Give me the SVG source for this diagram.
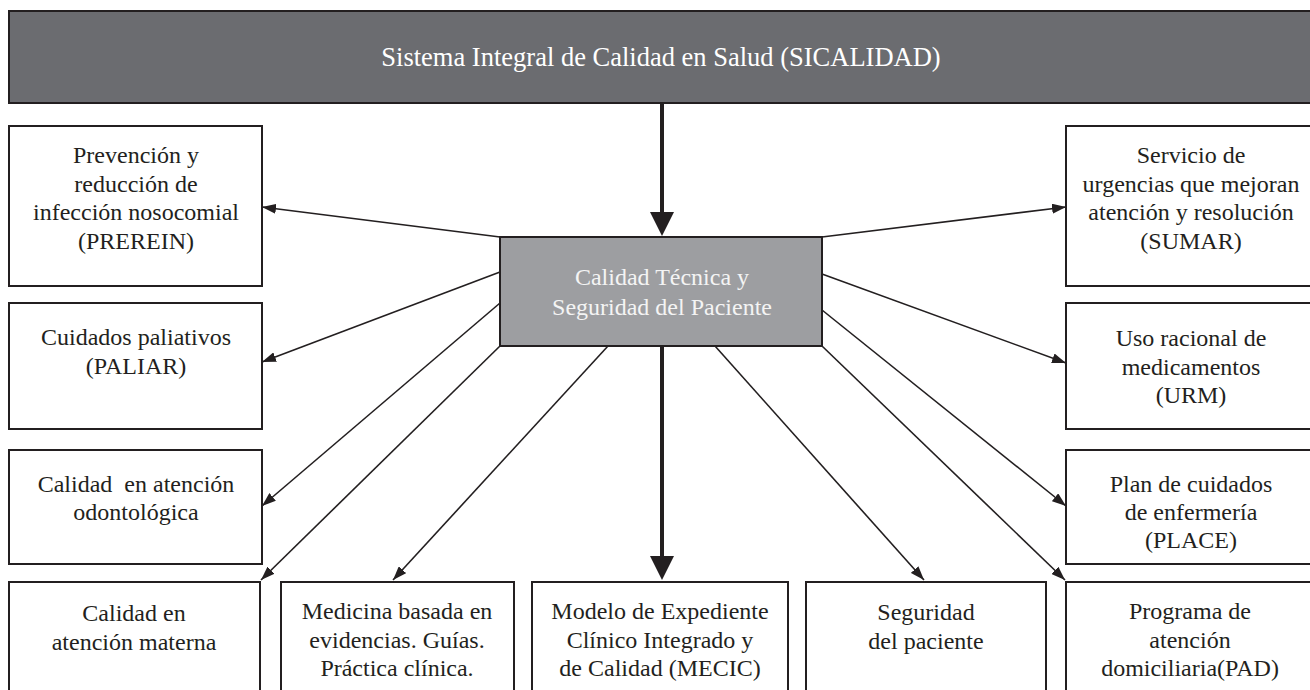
<svg xmlns="http://www.w3.org/2000/svg" width="1310" height="690" viewBox="0 0 1310 690">
<style>
.box{fill:#ffffff;stroke:#231f20;stroke-width:2}
.t{font-family:"Liberation Serif","Times New Roman",serif;font-size:24px;fill:#231f20;text-anchor:middle}
.w{fill:#f4f4f4}
.thin{stroke:#231f20;stroke-width:1.6;fill:none;marker-end:url(#ah)}
.thick{stroke:#231f20;stroke-width:4;fill:none}
.head{fill:#231f20}
</style>
<defs>
<marker id="ah" markerUnits="userSpaceOnUse" viewBox="0 0 14 10" refX="14" refY="5" markerWidth="14" markerHeight="10" orient="auto">
<path d="M0,0 L14,5 L0,10 z" fill="#231f20"/>
</marker>
</defs>
<rect width="1310" height="690" fill="#ffffff"/>

<g id="connectors">
<line class="thick" x1="662" y1="103" x2="662" y2="214"/>
<polygon class="head" points="650,212 674,212 662,236"/>
<line class="thick" x1="662" y1="346" x2="662" y2="558"/>
<polygon class="head" points="650,556 674,556 662,580"/>
<line class="thin" x1="500" y1="237" x2="262" y2="207"/>
<line class="thin" x1="500" y1="272" x2="262" y2="362"/>
<line class="thin" x1="500" y1="303" x2="262" y2="506"/>
<line class="thin" x1="500" y1="346" x2="261" y2="580"/>
<line class="thin" x1="608" y1="346" x2="393" y2="580"/>
<line class="thin" x1="715" y1="346" x2="924" y2="580"/>
<line class="thin" x1="822" y1="346" x2="1065" y2="580"/>
<line class="thin" x1="822" y1="310" x2="1066" y2="506"/>
<line class="thin" x1="822" y1="274" x2="1066" y2="363"/>
<line class="thin" x1="822" y1="237" x2="1066" y2="207"/>
</g>

<g id="sicalidad">
<rect x="9" y="11" width="1320" height="92" fill="#6b6c70" stroke="#231f20" stroke-width="2"/>
<text class="t" x="661" y="66" style="font-size:26.5px;fill:#ffffff">Sistema Integral de Calidad en Salud (SICALIDAD)</text>
</g>

<g id="centro">
<rect x="500" y="237" width="322" height="109" fill="#9d9ea1" stroke="#231f20" stroke-width="2"/>
<text class="t w" x="662" y="285">Calidad Técnica y</text>
<text class="t w" x="662" y="315">Seguridad del Paciente</text>
</g>

<g id="prerein">
<rect class="box" x="9" y="126" width="253" height="160"/>
<text class="t" x="136" y="163">Prevención y</text>
<text class="t" x="136" y="191.5">reducción de</text>
<text class="t" x="136" y="220">infección nosocomial</text>
<text class="t" x="136" y="248.5">(PREREIN)</text>
</g>

<g id="paliar">
<rect class="box" x="9" y="303" width="253" height="126"/>
<text class="t" x="136" y="345">Cuidados paliativos</text>
<text class="t" x="136" y="373.5">(PALIAR)</text>
</g>

<g id="odontologica">
<rect class="box" x="9" y="450" width="253" height="114"/>
<text class="t" x="136" y="492" xml:space="preserve">Calidad  en atención</text>
<text class="t" x="136" y="520">odontológica</text>
</g>

<g id="materna">
<rect class="box" x="9" y="582" width="251" height="130"/>
<text class="t" x="134" y="621">Calidad en</text>
<text class="t" x="134" y="649.5">atención materna</text>
</g>

<g id="medicina">
<rect class="box" x="281" y="582" width="233" height="130"/>
<text class="t" x="397" y="619">Medicina basada en</text>
<text class="t" x="397" y="647.5">evidencias. Guías.</text>
<text class="t" x="397" y="676">Práctica clínica.</text>
</g>

<g id="mecic">
<rect class="box" x="532" y="582" width="256" height="130"/>
<text class="t" x="660" y="619">Modelo de Expediente</text>
<text class="t" x="660" y="647.5">Clínico Integrado y</text>
<text class="t" x="660" y="676">de Calidad (MECIC)</text>
</g>

<g id="seguridad">
<rect class="box" x="806" y="582" width="240" height="130"/>
<text class="t" x="926" y="620">Seguridad</text>
<text class="t" x="926" y="648.5">del paciente</text>
</g>

<g id="pad">
<rect class="box" x="1066" y="582" width="260" height="130"/>
<text class="t" x="1190" y="619">Programa de</text>
<text class="t" x="1190" y="647.5">atención</text>
<text class="t" x="1190" y="676">domiciliaria(PAD)</text>
</g>

<g id="sumar">
<rect class="box" x="1066" y="126" width="260" height="160"/>
<text class="t" x="1191" y="163">Servicio de</text>
<text class="t" x="1191" y="191.5">urgencias que mejoran</text>
<text class="t" x="1191" y="220">atención y resolución</text>
<text class="t" x="1191" y="248.5">(SUMAR)</text>
</g>

<g id="urm">
<rect class="box" x="1066" y="303" width="260" height="126"/>
<text class="t" x="1191" y="346">Uso racional de</text>
<text class="t" x="1191" y="374.5">medicamentos</text>
<text class="t" x="1191" y="403">(URM)</text>
</g>

<g id="place">
<rect class="box" x="1066" y="450" width="260" height="114"/>
<text class="t" x="1191" y="492">Plan de cuidados</text>
<text class="t" x="1191" y="520">de enfermería</text>
<text class="t" x="1191" y="548">(PLACE)</text>
</g>
</svg>
